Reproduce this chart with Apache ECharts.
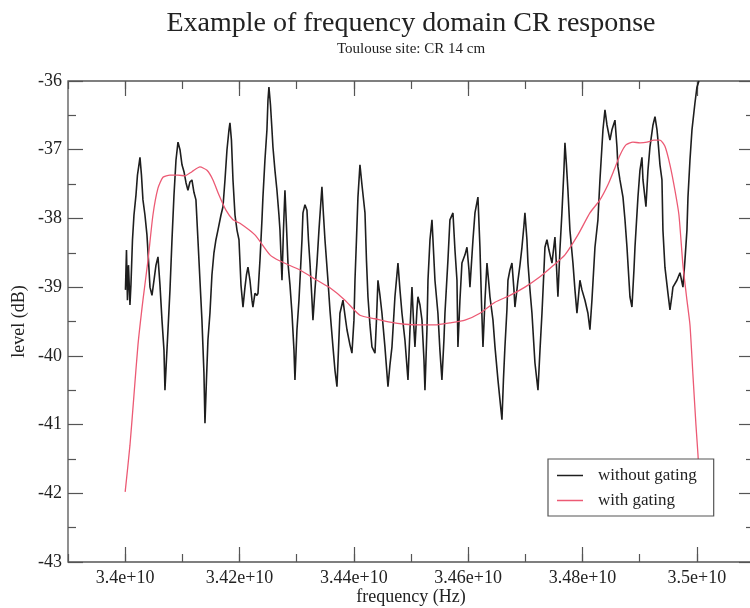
<!DOCTYPE html>
<html>
<head>
<meta charset="utf-8">
<script src="https://cdn.jsdelivr.net/npm/echarts@6/dist/echarts.min.js"></script>
<style>html,body{margin:0;padding:0;background:#fff}#c{width:750px;height:608px}</style>
</head>
<body>
<div id="c"></div>
<script>
// frequency in GHz (34 GHz = 3.4e10 Hz), level in dB
const withoutGatingFreqGHz = [
34.0005,34.0023,34.0040,34.0058,34.0084,34.0101,34.0128,34.0154,34.0189,34.0215,
34.0241,34.0259,34.0285,34.0311,34.0346,34.0381,34.0408,34.0434,34.0469,34.0504,
34.0539,34.0574,34.0609,34.0644,34.0679,34.0696,34.0722,34.0749,34.0784,34.0819,
34.0854,34.0889,34.0924,34.0959,34.0994,34.1029,34.1064,34.1098,34.1133,34.1168,
34.1203,34.1238,34.1273,34.1308,34.1343,34.1378,34.1396,34.1422,34.1448,34.1483,
34.1518,34.1553,34.1588,34.1623,34.1676,34.1711,34.1746,34.1781,34.1816,34.1833,
34.1859,34.1886,34.1921,34.1956,34.1991,34.2026,34.2061,34.2096,34.2122,34.2148,
34.2183,34.2218,34.2235,34.2270,34.2305,34.2323,34.2358,34.2393,34.2410,34.2445,
34.2480,34.2498,34.2515,34.2542,34.2568,34.2585,34.2620,34.2655,34.2690,34.2708,
34.2743,34.2769,34.2795,34.2821,34.2848,34.2883,34.2918,34.2953,34.2970,34.3005,
34.3040,34.3058,34.3093,34.3110,34.3145,34.3180,34.3206,34.3233,34.3268,34.3285,
34.3320,34.3355,34.3390,34.3442,34.3469,34.3495,34.3547,34.3582,34.3635,34.3670,
34.3705,34.3731,34.3757,34.3810,34.3845,34.3880,34.3932,34.3967,34.4002,34.4020,
34.4046,34.4072,34.4107,34.4142,34.4195,34.4221,34.4247,34.4282,34.4317,34.4370,
34.4396,34.4422,34.4457,34.4492,34.4544,34.4597,34.4632,34.4667,34.4719,34.4772,
34.4807,34.4842,34.4894,34.4947,34.4982,34.5017,34.5043,34.5069,34.5104,34.5122,
34.5157,34.5192,34.5227,34.5244,34.5279,34.5297,34.5332,34.5367,34.5393,34.5419,
34.5471,34.5506,34.5541,34.5576,34.5594,34.5646,34.5681,34.5734,34.5769,34.5804,
34.5821,34.5856,34.5891,34.5944,34.5979,34.6014,34.6031,34.6084,34.6119,34.6171,
34.6206,34.6232,34.6259,34.6294,34.6329,34.6364,34.6381,34.6434,34.6469,34.6521,
34.6556,34.6591,34.6617,34.6643,34.6678,34.6696,34.6731,34.6766,34.6801,34.6818,
34.6853,34.6871,34.6906,34.6941,34.6976,34.6993,34.7028,34.7046,34.7081,34.7116,
34.7168,34.7221,34.7256,34.7291,34.7326,34.7343,34.7378,34.7413,34.7466,34.7518,
34.7544,34.7570,34.7605,34.7640,34.7675,34.7693,34.7719,34.7745,34.7780,34.7833,
34.7868,34.7903,34.7955,34.7990,34.8043,34.8095,34.8130,34.8165,34.8218,34.8270,
34.8305,34.8358,34.8393,34.8428,34.8480,34.8515,34.8568,34.8603,34.8620,34.8655,
34.8708,34.8743,34.8778,34.8830,34.8865,34.8900,34.8918,34.8970,34.9005,34.9040,
34.9058,34.9110,34.9145,34.9180,34.9233,34.9268,34.9303,34.9320,34.9355,34.9390,
34.9407,34.9442,34.9495,34.9530,34.9565,34.9582,34.9652,34.9705,34.9757,34.9792,
34.9827,34.9845,34.9880,34.9915,34.9967,35.0002,35.0037
];
const withoutGatingLevel = [
-39.04,-38.46,-39.19,-38.68,-39.26,-38.97,-38.31,-37.95,-37.66,-37.37,
-37.22,-37.11,-37.37,-37.73,-37.95,-38.24,-38.61,-39.00,-39.12,-38.90,
-38.68,-38.56,-38.97,-39.48,-39.92,-40.50,-40.06,-39.62,-39.04,-38.31,
-37.66,-37.15,-36.89,-37.00,-37.22,-37.32,-37.48,-37.59,-37.47,-37.44,
-37.62,-37.73,-38.31,-38.90,-39.48,-40.25,-40.98,-40.35,-39.77,-39.38,
-38.82,-38.50,-38.31,-38.17,-37.95,-37.83,-37.44,-37.00,-36.71,-36.61,
-36.86,-37.44,-37.95,-38.17,-38.31,-38.97,-39.29,-39.00,-38.82,-38.71,
-38.90,-39.19,-39.29,-39.09,-39.12,-39.09,-38.61,-38.02,-37.69,-37.15,
-36.71,-36.28,-36.09,-36.35,-36.71,-36.96,-37.30,-37.59,-37.95,-38.17,
-38.90,-38.17,-37.59,-38.10,-38.65,-38.97,-39.38,-39.92,-40.35,-39.62,
-39.19,-38.90,-38.31,-37.92,-37.80,-37.88,-38.31,-38.65,-39.19,-39.48,
-39.04,-38.65,-38.17,-37.54,-37.95,-38.31,-38.90,-39.33,-39.87,-40.21,
-40.45,-39.92,-39.38,-39.19,-39.41,-39.62,-39.84,-39.96,-39.48,-38.90,
-38.31,-37.69,-37.22,-37.51,-37.92,-38.61,-39.14,-39.55,-39.87,-39.96,
-39.48,-38.90,-39.12,-39.38,-39.87,-40.45,-40.13,-39.87,-39.14,-38.65,
-39.04,-39.38,-39.77,-40.35,-39.62,-39.00,-39.48,-39.87,-39.33,-39.14,
-39.26,-39.48,-40.06,-40.50,-39.62,-38.90,-38.31,-38.02,-38.46,-38.90,
-39.38,-39.92,-40.35,-39.77,-39.38,-38.61,-38.02,-37.92,-38.46,-38.90,
-39.87,-39.19,-38.65,-38.53,-38.42,-38.75,-39.00,-38.31,-37.92,-37.69,
-38.42,-39.19,-39.87,-39.19,-38.65,-38.97,-39.14,-39.48,-39.87,-40.35,
-40.64,-40.93,-40.35,-39.87,-39.33,-38.90,-38.75,-38.65,-39.04,-39.29,
-39.04,-38.90,-38.68,-38.42,-38.10,-37.92,-38.31,-38.65,-39.04,-39.38,
-40.10,-40.50,-39.92,-39.38,-38.75,-38.42,-38.31,-38.46,-38.65,-38.27,
-38.68,-39.14,-38.46,-37.92,-37.30,-36.90,-37.22,-37.59,-38.17,-38.65,
-39.04,-39.38,-38.90,-39.04,-39.19,-39.38,-39.62,-39.19,-38.42,-38.02,
-37.44,-36.71,-36.42,-36.64,-36.86,-36.71,-36.57,-36.96,-37.25,-37.44,
-37.69,-38.02,-38.42,-39.14,-39.29,-38.75,-38.42,-37.69,-37.30,-37.11,
-37.44,-37.83,-37.30,-36.96,-36.64,-36.52,-36.71,-36.86,-37.22,-37.44,
-38.17,-38.71,-39.09,-39.33,-39.12,-39.00,-38.90,-38.79,-39.00,-38.61,
-38.17,-37.69,-37.15,-36.71,-36.32,-36.09,-36.00
];
const withGatingFreqGHz = [
34.0000,34.0084,34.0154,34.0224,34.0311,34.0399,34.0486,34.0574,34.0661,34.0784,
34.0924,34.1046,34.1168,34.1308,34.1431,34.1536,34.1641,34.1763,34.1886,34.2008,
34.2270,34.2533,34.2708,34.3058,34.3355,34.3582,34.3845,34.4107,34.4370,34.4632,
34.4894,34.5157,34.5419,34.5681,34.5944,34.6206,34.6469,34.6731,34.6993,34.7256,
34.7483,34.7693,34.7920,34.8130,34.8305,34.8445,34.8550,34.8655,34.8760,34.8883,
34.9005,34.9128,34.9250,34.9355,34.9442,34.9530,34.9617,34.9687,34.9757,34.9827,
34.9880,34.9932,34.9985,35.0020,35.0055
];
const withGatingLevel = [
-41.98,-41.30,-40.57,-39.84,-39.19,-38.61,-37.95,-37.56,-37.40,-37.37,
-37.37,-37.38,-37.32,-37.25,-37.30,-37.44,-37.66,-37.88,-38.02,-38.07,
-38.24,-38.53,-38.62,-38.75,-38.90,-39.01,-39.19,-39.41,-39.46,-39.51,
-39.54,-39.55,-39.55,-39.52,-39.48,-39.38,-39.22,-39.12,-39.00,-38.85,
-38.69,-38.53,-38.24,-37.92,-37.73,-37.51,-37.30,-37.08,-36.93,-36.89,
-36.90,-36.89,-36.86,-36.86,-36.95,-37.22,-37.59,-37.95,-38.68,-39.19,
-39.55,-40.28,-41.01,-41.44,-41.95
];
const xMajorTicks = [3.40e10, 3.42e10, 3.44e10, 3.46e10, 3.48e10, 3.50e10];
const seriesNames = ['without gating', 'with gating'];
const titleText = 'Example of frequency domain CR response';
const subtitleText = 'Toulouse site: CR 14 cm';

const toPairs = (f, v) => f.map((g, i) => [g * 1e9, v[i]]);
const FONT = '"Liberation Serif", "Times New Roman", serif';
const AX = '#555';
const xFmt = v => parseFloat((v / 1e10).toFixed(3)) + 'e+10';

const chart = echarts.init(document.getElementById('c'), null, {renderer: 'canvas'});
const baseX = {
  type: 'value', min: 3.39e10, max: 3.51e10,
  axisLine: {show: false}, splitLine: {show: false}
};
chart.setOption({
  animation: false,
  backgroundColor: '#fff',
  title: {
    text: titleText, subtext: subtitleText,
    left: 411, top: 10, padding: 0, textAlign: 'center', itemGap: 4,
    textStyle: {fontFamily: FONT, fontSize: 28, fontWeight: 'normal', color: '#222'},
    subtextStyle: {fontFamily: FONT, fontSize: 15, color: '#222'}
  },
  legend: {
    data: seriesNames, orient: 'vertical', left: 548, top: 459,
    icon: 'rect', padding: [8, 17, 7, 9], itemGap: 8, itemWidth: 26, itemHeight: 1.5,
    backgroundColor: '#fff', borderColor: '#555', borderWidth: 1.2,
    textStyle: {fontFamily: FONT, fontSize: 17, color: '#222', padding: [0, 0, 0, 10]}
  },
  grid: {left: 68, top: 81, width: 686, height: 481, containLabel: false, outerBoundsMode: 'none',
         show: true, borderColor: AX, borderWidth: 1.3, backgroundColor: 'transparent'},
  xAxis: [
    Object.assign({}, baseX, {
      position: 'bottom',
      axisTick: {show: true, inside: true, length: 15, customValues: xMajorTicks, lineStyle: {color: AX, width: 1.2}},
      axisLabel: {customValues: xMajorTicks, formatter: xFmt, fontFamily: FONT, fontSize: 18, color: '#222', margin: 7},
      name: 'frequency (Hz)', nameLocation: 'middle', nameGap: 26, nameMoveOverlap: false,
      nameTextStyle: {fontFamily: FONT, fontSize: 18, color: '#222'}
    }),
    Object.assign({}, baseX, {
      position: 'bottom', interval: 1e8,
      axisTick: {show: true, inside: true, length: 8, lineStyle: {color: AX, width: 1.2}},
      axisLabel: {show: false}
    }),
    Object.assign({}, baseX, {
      position: 'top',
      axisTick: {show: true, inside: true, length: 15, customValues: xMajorTicks, lineStyle: {color: AX, width: 1.2}},
      axisLabel: {show: false}
    }),
    Object.assign({}, baseX, {
      position: 'top', interval: 1e8,
      axisTick: {show: true, inside: true, length: 8, lineStyle: {color: AX, width: 1.2}},
      axisLabel: {show: false}
    })
  ],
  yAxis: [
    {
      type: 'value', min: -43, max: -36, interval: 1, position: 'left',
      axisLine: {show: false}, splitLine: {show: false},
      axisTick: {show: true, inside: true, length: 15, lineStyle: {color: AX, width: 1.2}},
      minorTick: {show: true, splitNumber: 2, length: 8, lineStyle: {color: AX, width: 1.2}},
      axisLabel: {fontFamily: FONT, fontSize: 18, color: '#222', margin: 6},
      name: 'level (dB)', nameLocation: 'middle', nameGap: 40, nameMoveOverlap: false,
      nameTextStyle: {fontFamily: FONT, fontSize: 18, color: '#222'}
    },
    {
      type: 'value', min: -43, max: -36, interval: 1, position: 'right',
      axisLine: {show: false}, splitLine: {show: false},
      axisTick: {show: true, inside: true, length: 15, lineStyle: {color: AX, width: 1.2}},
      minorTick: {show: true, splitNumber: 2, length: 8, lineStyle: {color: AX, width: 1.2}},
      axisLabel: {show: false}
    }
  ],
  series: [
    {
      name: seriesNames[0], type: 'line', xAxisIndex: 0, yAxisIndex: 0,
      data: toPairs(withoutGatingFreqGHz, withoutGatingLevel),
      symbol: 'none', showSymbol: false, clip: true,
      lineStyle: {color: '#1e1e1e', width: 1.6}, itemStyle: {color: '#1e1e1e'}
    },
    {
      name: seriesNames[1], type: 'line', xAxisIndex: 0, yAxisIndex: 0,
      data: toPairs(withGatingFreqGHz, withGatingLevel),
      symbol: 'none', showSymbol: false, clip: true, smooth: 0.2,
      lineStyle: {color: '#ec5a74', width: 1.3}, itemStyle: {color: '#ec5a74'}
    }
  ]
});
</script>
</body>
</html>
